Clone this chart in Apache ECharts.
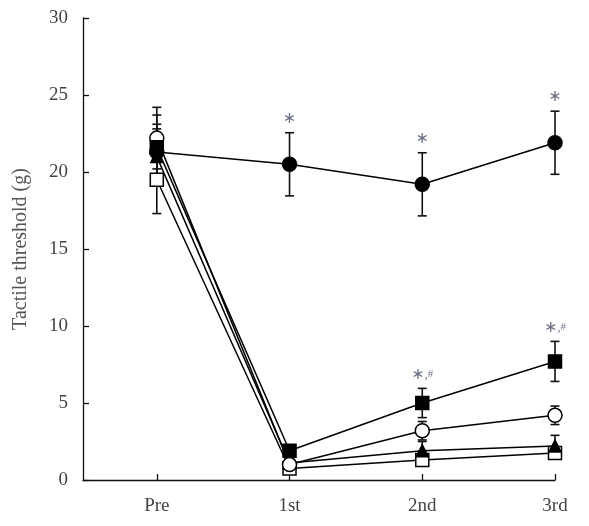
<!DOCTYPE html>
<html><head><meta charset="utf-8">
<script src="https://cdn.jsdelivr.net/npm/echarts@6/dist/echarts.min.js"></script>
<style>html,body{margin:0;padding:0;background:#fff}#c{width:589px;height:526px}</style>
</head><body><div id="c"></div>
<script>
const categories = ['Pre', '1st', '2nd', '3rd'];
const yTicks = [0, 5, 10, 15, 20, 25, 30];
// group means and SD (g)
const filledCircle = [21.3, 20.5, 19.2, 21.9];
const filledCircleErr = [1.8, 2.05, 2.05, 2.05];
const filledSquare = [21.6, 1.9, 5.0, 7.7];
const filledSquareErr = [2.1, 0.2, 0.95, 1.3];
const openCircle = [22.2, 1.0, 3.2, 4.2];
const openCircleErr = [2.0, 0.2, 0.6, 0.6];
const filledTriangle = [21.0, 1.1, 1.9, 2.2];
const filledTriangleErr = [1.8, 0.2, 0.6, 0.7];
const openSquare = [19.5, 0.75, 1.3, 1.75];
const openSquareErr = [2.2, 0.15, 0.3, 0.3];
// significance marks: [category index, series name, text]
const marks = [
  [1, 'filledCircle', 'star'], [2, 'filledCircle', 'star'], [3, 'filledCircle', 'star'],
  [2, 'filledSquare', 'starHash'], [3, 'filledSquare', 'starHash']
];

const groups = {
  filledCircle: {v: filledCircle, e: filledCircleErr, sym: 'circle', size: 14, fill: '#000'},
  filledSquare: {v: filledSquare, e: filledSquareErr, sym: 'rect', size: 13, fill: '#000'},
  openCircle: {v: openCircle, e: openCircleErr, sym: 'circle', size: 14, fill: '#fff'},
  filledTriangle: {v: filledTriangle, e: filledTriangleErr, sym: 'triangle', size: 12, fill: '#000'},
  openSquare: {v: openSquare, e: openSquareErr, sym: 'rect', size: 13, fill: '#fff'}
};
const order = ['openSquare', 'filledTriangle', 'openCircle', 'filledSquare', 'filledCircle'];

const series = [];
order.forEach(function (k) {
  const g = groups[k];
  series.push({
    type: 'custom', name: k + 'Err', z: 2, silent: true,
    data: g.v.map(function (v, i) { return [i, v - g.e[i], v + g.e[i]]; }),
    renderItem: function (params, api) {
      const x = api.value(0);
      const lo = api.coord([x, api.value(1)]);
      const hi = api.coord([x, api.value(2)]);
      const w = 4.5;
      const st = {stroke: '#111', lineWidth: 1.6};
      return {type: 'group', children: [
        {type: 'line', shape: {x1: lo[0], y1: lo[1], x2: hi[0], y2: hi[1]}, style: st},
        {type: 'line', shape: {x1: lo[0] - w, y1: lo[1], x2: lo[0] + w, y2: lo[1]}, style: st},
        {type: 'line', shape: {x1: hi[0] - w, y1: hi[1], x2: hi[0] + w, y2: hi[1]}, style: st}
      ]};
    },
    encode: {x: 0, y: [1, 2]}
  });
});
order.forEach(function (k) {
  const g = groups[k];
  series.push({
    type: 'line', name: k, z: 3,
    data: g.v.map(function (v, i) { return [i, v]; }),
    symbol: g.sym, symbolSize: g.size, showSymbol: true,
    lineStyle: {color: '#000', width: 1.5},
    itemStyle: {color: g.fill, borderColor: '#000', borderWidth: 1.5},
    emphasis: {disabled: true}, animation: false
  });
});
series.push({
  type: 'scatter', z: 4, symbolSize: 0, silent: true,
  data: marks.map(function (m) {
    const g = groups[m[1]];
    return {value: [m[0], g.v[m[0]] + g.e[m[0]]], kind: m[2]};
  }),
  label: {
    show: true, position: 'top', distance: 6,
    formatter: function (p) {
      return p.data.kind === 'star' ? '{s|\u2217}' : '{s|\u2217}{c|,}{h|#}';
    },
    rich: {
      s: {fontSize: 16, color: '#4a4f68', fontFamily: 'DejaVu Sans'},
      c: {fontSize: 12, color: '#4a4f68', fontFamily: 'Liberation Serif'},
      h: {fontSize: 11, color: '#4a4f68', fontFamily: 'Liberation Serif'}
    }
  }
});

const chart = echarts.init(document.getElementById('c'), null, {renderer: 'canvas'});
chart.setOption({
  animation: false,
  backgroundColor: '#fff',
  grid: {left: 83, top: 18, right: 34, bottom: 46, containLabel: false},
  xAxis: {
    type: 'value', min: -0.556, max: 3,
    splitLine: {show: false},
    axisLine: {show: true, onZero: false, lineStyle: {color: '#111', width: 1.3}},
    axisTick: {show: true, inside: true, length: 6, customValues: [0, 1, 2, 3], lineStyle: {color: '#111', width: 1.3}},
    axisLabel: {
      customValues: [0, 1, 2, 3], margin: 17,
      formatter: function (v) { return categories[Math.round(v)]; },
      fontFamily: 'Liberation Serif', fontSize: 19, color: '#444'
    }
  },
  yAxis: {
    type: 'value', min: 0, max: 30,
    splitLine: {show: false},
    name: 'Tactile threshold (g)', nameLocation: 'middle', nameGap: 52,
    nameTextStyle: {fontFamily: 'Liberation Serif', fontSize: 20, color: '#555'},
    axisLine: {show: true, onZero: false, lineStyle: {color: '#111', width: 1.3}},
    axisTick: {show: true, inside: true, length: 6, customValues: yTicks, lineStyle: {color: '#111', width: 1.3}},
    axisLabel: {customValues: yTicks, margin: 15, fontFamily: 'Liberation Serif', fontSize: 19, color: '#444'}
  },
  series: series
});
</script>
</body></html>
